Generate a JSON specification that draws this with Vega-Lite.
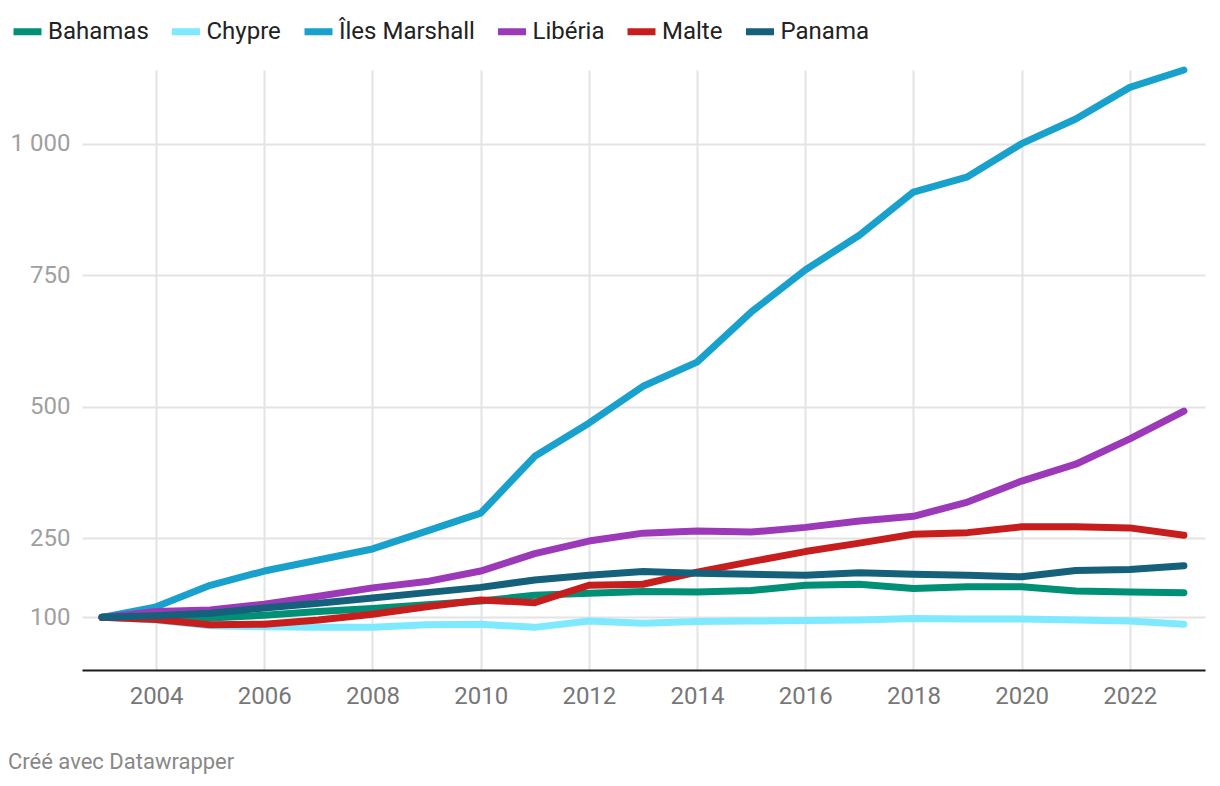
{
  "$schema": "https://vega.github.io/schema/vega-lite/v6.json",
  "autosize": "none",
  "width": 1123,
  "height": 600,
  "padding": {"left": 82, "top": 70, "right": 15, "bottom": 116},
  "background": "#ffffff",
  "config": {
    "view": {"stroke": null},
    "font": "Roboto",
    "line": {"strokeWidth": 7, "strokeCap": "round", "strokeJoin": "round"}
  },
  "title": {
    "text": "Créé avec Datawrapper",
    "orient": "bottom",
    "anchor": "start",
    "dx": -2,
    "offset": 44,
    "font": "Roboto",
    "fontSize": 22,
    "fontWeight": "normal",
    "color": "#888888"
  },
  "data": {
    "values": [
      {"year": 2003, "country": "Bahamas", "value": 100},
      {"year": 2004, "country": "Bahamas", "value": 100},
      {"year": 2005, "country": "Bahamas", "value": 99},
      {"year": 2006, "country": "Bahamas", "value": 104},
      {"year": 2007, "country": "Bahamas", "value": 111},
      {"year": 2008, "country": "Bahamas", "value": 117},
      {"year": 2009, "country": "Bahamas", "value": 124},
      {"year": 2010, "country": "Bahamas", "value": 131},
      {"year": 2011, "country": "Bahamas", "value": 142},
      {"year": 2012, "country": "Bahamas", "value": 146},
      {"year": 2013, "country": "Bahamas", "value": 149},
      {"year": 2014, "country": "Bahamas", "value": 148},
      {"year": 2015, "country": "Bahamas", "value": 151},
      {"year": 2016, "country": "Bahamas", "value": 161},
      {"year": 2017, "country": "Bahamas", "value": 163},
      {"year": 2018, "country": "Bahamas", "value": 155},
      {"year": 2019, "country": "Bahamas", "value": 158},
      {"year": 2020, "country": "Bahamas", "value": 158},
      {"year": 2021, "country": "Bahamas", "value": 150},
      {"year": 2022, "country": "Bahamas", "value": 148},
      {"year": 2023, "country": "Bahamas", "value": 147},
      {"year": 2003, "country": "Chypre", "value": 100},
      {"year": 2004, "country": "Chypre", "value": 95},
      {"year": 2005, "country": "Chypre", "value": 84},
      {"year": 2006, "country": "Chypre", "value": 82},
      {"year": 2007, "country": "Chypre", "value": 81},
      {"year": 2008, "country": "Chypre", "value": 81},
      {"year": 2009, "country": "Chypre", "value": 86},
      {"year": 2010, "country": "Chypre", "value": 87},
      {"year": 2011, "country": "Chypre", "value": 81},
      {"year": 2012, "country": "Chypre", "value": 93},
      {"year": 2013, "country": "Chypre", "value": 89},
      {"year": 2014, "country": "Chypre", "value": 92},
      {"year": 2015, "country": "Chypre", "value": 93},
      {"year": 2016, "country": "Chypre", "value": 94},
      {"year": 2017, "country": "Chypre", "value": 95},
      {"year": 2018, "country": "Chypre", "value": 98},
      {"year": 2019, "country": "Chypre", "value": 97},
      {"year": 2020, "country": "Chypre", "value": 97},
      {"year": 2021, "country": "Chypre", "value": 95},
      {"year": 2022, "country": "Chypre", "value": 93},
      {"year": 2023, "country": "Chypre", "value": 87},
      {"year": 2003, "country": "Îles Marshall", "value": 100},
      {"year": 2004, "country": "Îles Marshall", "value": 120},
      {"year": 2005, "country": "Îles Marshall", "value": 161},
      {"year": 2006, "country": "Îles Marshall", "value": 188},
      {"year": 2007, "country": "Îles Marshall", "value": 209},
      {"year": 2008, "country": "Îles Marshall", "value": 230},
      {"year": 2009, "country": "Îles Marshall", "value": 264},
      {"year": 2010, "country": "Îles Marshall", "value": 298},
      {"year": 2011, "country": "Îles Marshall", "value": 406},
      {"year": 2012, "country": "Îles Marshall", "value": 469},
      {"year": 2013, "country": "Îles Marshall", "value": 539},
      {"year": 2014, "country": "Îles Marshall", "value": 585},
      {"year": 2015, "country": "Îles Marshall", "value": 680},
      {"year": 2016, "country": "Îles Marshall", "value": 760},
      {"year": 2017, "country": "Îles Marshall", "value": 826},
      {"year": 2018, "country": "Îles Marshall", "value": 908},
      {"year": 2019, "country": "Îles Marshall", "value": 937},
      {"year": 2020, "country": "Îles Marshall", "value": 1000},
      {"year": 2021, "country": "Îles Marshall", "value": 1047},
      {"year": 2022, "country": "Îles Marshall", "value": 1107},
      {"year": 2023, "country": "Îles Marshall", "value": 1140},
      {"year": 2003, "country": "Libéria", "value": 100},
      {"year": 2004, "country": "Libéria", "value": 111},
      {"year": 2005, "country": "Libéria", "value": 114},
      {"year": 2006, "country": "Libéria", "value": 125},
      {"year": 2007, "country": "Libéria", "value": 140},
      {"year": 2008, "country": "Libéria", "value": 156},
      {"year": 2009, "country": "Libéria", "value": 168},
      {"year": 2010, "country": "Libéria", "value": 188},
      {"year": 2011, "country": "Libéria", "value": 221},
      {"year": 2012, "country": "Libéria", "value": 245},
      {"year": 2013, "country": "Libéria", "value": 260},
      {"year": 2014, "country": "Libéria", "value": 264},
      {"year": 2015, "country": "Libéria", "value": 262},
      {"year": 2016, "country": "Libéria", "value": 271},
      {"year": 2017, "country": "Libéria", "value": 283},
      {"year": 2018, "country": "Libéria", "value": 292},
      {"year": 2019, "country": "Libéria", "value": 319},
      {"year": 2020, "country": "Libéria", "value": 359},
      {"year": 2021, "country": "Libéria", "value": 391},
      {"year": 2022, "country": "Libéria", "value": 439},
      {"year": 2023, "country": "Libéria", "value": 492},
      {"year": 2003, "country": "Malte", "value": 100},
      {"year": 2004, "country": "Malte", "value": 96},
      {"year": 2005, "country": "Malte", "value": 86},
      {"year": 2006, "country": "Malte", "value": 87},
      {"year": 2007, "country": "Malte", "value": 95},
      {"year": 2008, "country": "Malte", "value": 106},
      {"year": 2009, "country": "Malte", "value": 120},
      {"year": 2010, "country": "Malte", "value": 133},
      {"year": 2011, "country": "Malte", "value": 128},
      {"year": 2012, "country": "Malte", "value": 161},
      {"year": 2013, "country": "Malte", "value": 163},
      {"year": 2014, "country": "Malte", "value": 186},
      {"year": 2015, "country": "Malte", "value": 206},
      {"year": 2016, "country": "Malte", "value": 225},
      {"year": 2017, "country": "Malte", "value": 241},
      {"year": 2018, "country": "Malte", "value": 258},
      {"year": 2019, "country": "Malte", "value": 261},
      {"year": 2020, "country": "Malte", "value": 272},
      {"year": 2021, "country": "Malte", "value": 272},
      {"year": 2022, "country": "Malte", "value": 270},
      {"year": 2023, "country": "Malte", "value": 256},
      {"year": 2003, "country": "Panama", "value": 100},
      {"year": 2004, "country": "Panama", "value": 103},
      {"year": 2005, "country": "Panama", "value": 108},
      {"year": 2006, "country": "Panama", "value": 118},
      {"year": 2007, "country": "Panama", "value": 127},
      {"year": 2008, "country": "Panama", "value": 137},
      {"year": 2009, "country": "Panama", "value": 147},
      {"year": 2010, "country": "Panama", "value": 157},
      {"year": 2011, "country": "Panama", "value": 171},
      {"year": 2012, "country": "Panama", "value": 180},
      {"year": 2013, "country": "Panama", "value": 187},
      {"year": 2014, "country": "Panama", "value": 184},
      {"year": 2015, "country": "Panama", "value": 182},
      {"year": 2016, "country": "Panama", "value": 180},
      {"year": 2017, "country": "Panama", "value": 185},
      {"year": 2018, "country": "Panama", "value": 182},
      {"year": 2019, "country": "Panama", "value": 180},
      {"year": 2020, "country": "Panama", "value": 177},
      {"year": 2021, "country": "Panama", "value": 189},
      {"year": 2022, "country": "Panama", "value": 191},
      {"year": 2023, "country": "Panama", "value": 198}
    ]
  },
  "mark": {"type": "line", "strokeWidth": 7, "strokeCap": "round", "strokeJoin": "round"},
  "encoding": {
    "x": {
      "field": "year",
      "type": "quantitative",
      "scale": {"domain": [2002.63, 2023.39], "nice": false, "zero": false},
      "axis": {
        "title": null,
        "values": [2004, 2006, 2008, 2010, 2012, 2014, 2016, 2018, 2020, 2022],
        "format": "d",
        "grid": true,
        "gridColor": "#e3e3e3",
        "gridWidth": 2,
        "ticks": false,
        "domain": true,
        "domainColor": "#1a1a1a",
        "domainWidth": 2,
        "labelFont": "Roboto",
        "labelFontSize": 24,
        "labelColor": "#777777",
        "labelPadding": 14
      }
    },
    "y": {
      "field": "value",
      "type": "quantitative",
      "scale": {"domain": [0, 1140], "nice": false, "zero": true},
      "axis": {
        "title": null,
        "values": [100, 250, 500, 750, 1000],
        "labelExpr": "replace(format(datum.value, ',d'), ',', ' ')",
        "grid": true,
        "gridColor": "#e3e3e3",
        "gridWidth": 2,
        "ticks": false,
        "domain": false,
        "labelFont": "Roboto",
        "labelFontSize": 24,
        "labelColor": "#a0a0a0",
        "labelPadding": 12
      }
    },
    "color": {
      "field": "country",
      "type": "nominal",
      "sort": ["Bahamas", "Chypre", "Îles Marshall", "Libéria", "Malte", "Panama"],
      "scale": {
        "domain": ["Bahamas", "Chypre", "Îles Marshall", "Libéria", "Malte", "Panama"],
        "range": ["#009076", "#7fe9ff", "#18a1cd", "#9c39b8", "#c71e1d", "#15607a"]
      },
      "legend": {
        "title": null,
        "orient": "none",
        "direction": "horizontal",
        "legendX": -72,
        "legendY": -56,
        "symbolType": "stroke",
        "symbolSize": 784,
        "symbolStrokeWidth": 8,
        "labelFont": "Roboto",
        "labelFontSize": 24,
        "labelColor": "#222222",
        "labelOffset": 3,
        "columnPadding": 19.5,
        "encode": {"symbols": {"enter": {"strokeCap": {"value": "round"}}, "update": {"strokeCap": {"value": "round"}}}}
      }
    },
    "order": {"field": "year"}
  }
}
